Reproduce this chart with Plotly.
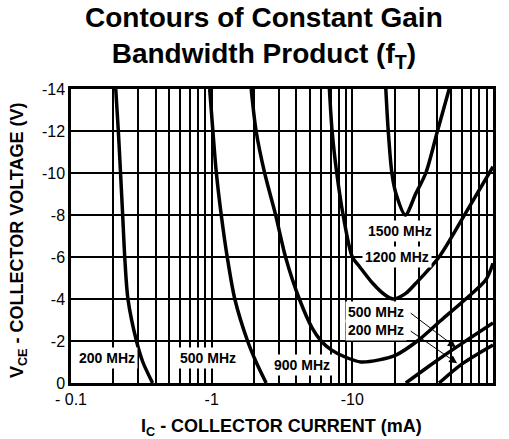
import numpy as np
import plotly.graph_objects as go

# ---- data (I_C in mA, V_CE in V) ----
i_200a = [0.208, 0.217, 0.225, 0.233, 0.241, 0.254, 0.292, 0.324, 0.380]
v_200a = [-14, -12, -10, -8, -6, -4, -2, -1, 0]

i_500a = [0.968, 1.02, 1.08, 1.17, 1.29, 1.46, 1.80, 2.07, 2.44]
v_500a = [-14, -12, -10, -8, -6, -4, -2, -1, 0]

i_900 = [1.91, 2.07, 2.38, 2.85, 3.35, 4.2, 5.2, 6.0, 7.0, 8.8, 11.5, 15.5, 20.4, 29, 43, 64, 88.7, 100]
v_900 = [-14, -12, -10, -8, -6, -4, -2.6, -2.0, -1.6, -1.25, -1.0, -1.1, -1.33, -2, -3, -4, -4.9, -5.7]

i_1200 = [6.87, 7.18, 7.75, 8.6, 10.0, 11.2, 13.9, 17, 19.5, 24, 28.3, 41.4, 64, 100]
v_1200 = [-14, -12, -10, -8, -6, -5.56, -4.76, -4.2, -4.0, -4.27, -4.75, -6.0, -8.1, -10.3]

i_1500 = [17.3, 18.0, 19.1, 20.4, 23.8, 28.3, 33.3, 40.3, 48.8]
v_1500 = [-14, -12, -10, -9.03, -8.0, -9.03, -10, -12, -14]

i_500b = [24, 38.6, 55.6, 100]
v_500b = [0, -1, -1.73, -2.86]

i_200b = [41.4, 60, 100]
v_200b = [0, -0.9, -1.81]

x_ticks = [0.1, 1, 10, 100]
x_ticktext = ["- 0.1", "-1", "-10", "-100"]
x_minor = [m * d for d in [0.1, 1, 10] for m in range(2, 10)]
y_ticks = [0, -2, -4, -6, -8, -10, -12, -14]
y_ticktext = ["0", "-2", "-4", "-6", "-8", "-10", "-12", "-14"]

labels = [
    ("200 MHz", 0.179, -1.2),
    ("500 MHz", 0.937, -1.2),
    ("900 MHz", 4.42, -0.86),
    ("1500 MHz", 21.9, -7.24),
    ("1200 MHz", 20.8, -6.0),
    ("500 MHz", 14.8, -3.38),
    ("200 MHz", 14.8, -2.52),
]
arrows = [  # (tail I, tail V, head I, head V)
    (25.4, -3.38, 54.4, -1.70),
    (25.4, -2.52, 55.6, -0.94),
]

FONT = "Liberation Sans, Arial, sans-serif"
W, H = 509, 439
L, R, T, B = 71, 16, 89, 56
PW, PH = W - L - R, H - T - B

fig = go.Figure()
for xs, ys in [(i_200a, v_200a), (i_500a, v_500a), (i_900, v_900), (i_1200, v_1200),
               (i_1500, v_1500), (i_500b, v_500b), (i_200b, v_200b)]:
    fig.add_trace(go.Scatter(x=xs, y=ys, mode="lines",
                             line=dict(color="black", width=3.5, shape="spline", smoothing=0.8),
                             showlegend=False, hoverinfo="skip"))

for txt, xi, yv in labels:
    fig.add_annotation(x=np.log10(xi), y=yv, xref="x", yref="y", text="<b>%s</b>" % txt,
                       showarrow=False, bgcolor="white", borderpad=2,
                       font=dict(family=FONT, size=14, color="black"))

for tx, tv, hx, hv in arrows:
    fig.add_annotation(x=np.log10(hx), y=hv, ax=np.log10(tx), ay=tv, xref="x", yref="y",
                       axref="x", ayref="y", text="", showarrow=True, arrowhead=2,
                       arrowsize=1.6, arrowwidth=1, arrowcolor="black")

fig.add_annotation(xref="paper", yref="paper", x=(281 - L) / PW, y=-(427 - (H - B)) / PH,
                   text="<b>I<sub>C</sub> - COLLECTOR CURRENT (mA)</b>", showarrow=False,
                   font=dict(family=FONT, size=18, color="black"), yanchor="middle")
fig.add_annotation(xref="paper", yref="paper", x=(18 - L) / PW, y=((H - B) - 240) / PH,
                   text="<b>V<sub>CE</sub> - COLLECTOR VOLTAGE (V)</b>", showarrow=False,
                   textangle=-90, font=dict(family=FONT, size=18, color="black"),
                   xanchor="center", yanchor="middle")
# chart title
fig.add_annotation(xref="paper", yref="paper", x=(263.5 - L) / PW, y=1 + (T - 38) / PH,
                   text="<b>Contours of Constant Gain<br>Bandwidth Product (f<sub>T</sub>)</b>",
                   showarrow=False, font=dict(family=FONT, size=28, color="black"),
                   xanchor="center", yanchor="middle")

fig.update_xaxes(type="log", range=[-1, 2], tickvals=x_ticks, ticktext=x_ticktext,
                 showgrid=True, gridcolor="black", gridwidth=1.5,
                 minor=dict(tickvals=x_minor, showgrid=True, gridcolor="black", gridwidth=1.5, ticks=""),
                 showline=True, linecolor="black", linewidth=2.5, mirror=True, ticks="",
                 tickfont=dict(family=FONT, size=16, color="black"), zeroline=False)
fig.update_yaxes(range=[0, -14], tickvals=y_ticks, ticktext=y_ticktext,
                 showgrid=True, gridcolor="black", gridwidth=1.5,
                 showline=True, linecolor="black", linewidth=2.5, mirror=True, ticks="",
                 tickfont=dict(family=FONT, size=16, color="black"), zeroline=False)

fig.update_layout(
    width=W, height=H,
    margin=dict(l=L, r=R, t=T, b=B),
    paper_bgcolor="white", plot_bgcolor="white",
)

fig.write_html("out.html", config={"displayModeBar": False},
               post_script="document.body.style.margin='0px';")
